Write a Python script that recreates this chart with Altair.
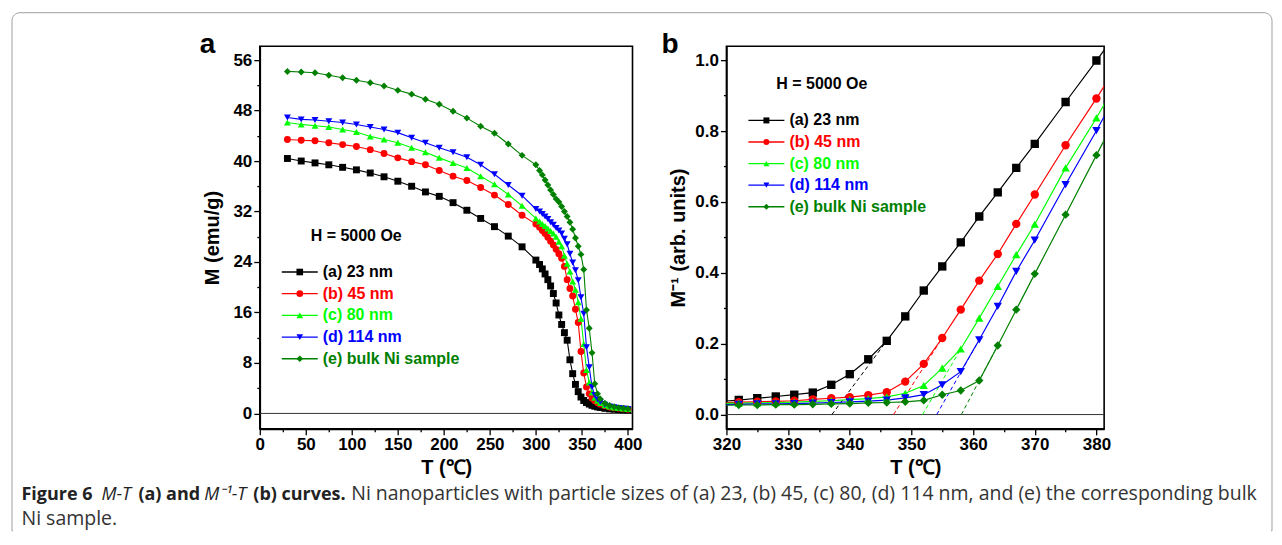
import altair as alt
import pandas as pd

# ------------------------------------------------------------------ data
series = ["(a) 23 nm", "(b) 45 nm", "(c) 80 nm", "(d) 114 nm", "(e) bulk Ni sample"]
colors = ["#000000", "#FF0000", "#00FF00", "#0000FF", "#008000"]
shapes = ["square", "circle", "triangle-up", "triangle-down", "diamond"]

# Panel a: M (emu/g) vs T (deg C)
T_a = [30, 45, 60, 75, 90, 105, 120, 135, 150, 165, 180, 195, 210, 225, 240, 255, 270, 285, 300,
       304, 307, 310, 313, 316, 319, 322, 325, 328, 331, 334, 337, 340, 343, 346, 349, 352, 355,
       358, 361, 364, 367, 370, 375, 380, 385, 390, 395, 400]
M_23 = [40.4, 40.0, 39.7, 39.4, 39.0, 38.6, 38.1, 37.5, 36.8, 36.0, 35.1, 34.4, 33.4, 32.2, 30.9,
        29.6, 28.1, 26.4, 24.3,
        23.6, 22.9, 22.1, 21.2, 20.2, 19.0, 17.5, 15.6, 14.1, 12.8, 11.6, 8.5, 6.3, 4.6, 3.45, 2.6,
        2.05, 1.72, 1.48, 1.28, 1.14, 1.03, 0.94, 0.81, 0.72, 0.66, 0.61, 0.57, 0.53]
M_45 = [43.4, 43.3, 43.2, 42.9, 42.6, 42.3, 41.8, 41.2, 40.5, 39.9, 39.4, 38.5, 37.6, 36.9, 35.8,
        34.6, 33.1, 31.4, 30.0,
        29.5, 29.0, 28.5, 27.9, 27.3, 26.7, 26.0, 25.3, 24.6, 23.3, 21.2, 19.8, 18.6, 16.5, 14.4,
        9.8, 6.4, 4.2, 3.1, 2.4, 2.0, 1.7, 1.47, 1.2, 1.02, 0.9, 0.8, 0.72, 0.66]
M_80 = [46.1, 45.8, 45.6, 45.4, 45.0, 44.6, 43.9, 43.4, 42.9, 42.1, 41.4, 40.5, 39.7, 38.9, 37.6,
        36.3, 34.7, 32.9, 30.9,
        30.4, 30.0, 29.7, 29.3, 28.9, 28.5, 28.0, 27.2, 26.5, 25.0, 23.7, 22.5, 20.9, 19.6, 17.6,
        15.0, 11.0, 6.9, 4.9, 3.3, 2.5, 2.0, 1.67, 1.29, 1.08, 0.95, 0.85, 0.77, 0.7]
M_114 = [46.9, 46.6, 46.5, 46.3, 46.1, 45.8, 45.4, 45.0, 44.5, 43.7, 42.9, 42.1, 41.4, 40.6, 39.4,
         37.9, 36.2, 34.5, 32.4,
         32.0, 31.6, 31.2, 30.8, 30.3, 29.9, 29.4, 29.0, 28.5, 27.7, 26.8, 25.3, 23.9, 22.7, 21.1,
         18.4, 15.8, 10.5, 7.3, 4.2, 2.9, 2.2, 1.8, 1.36, 1.1, 0.97, 0.87, 0.78, 0.72]
M_bulk = [54.2, 54.1, 54.0, 53.6, 53.2, 52.8, 52.4, 51.9, 51.2, 50.6, 49.8, 49.0, 47.9, 46.8, 45.5,
          44.4, 42.7, 40.9, 39.4,
          38.5, 37.8, 37.0, 36.2, 35.4, 34.7, 34.0, 33.5, 32.8, 32.0, 31.2, 30.3, 29.2, 27.8, 26.5,
          25.2, 22.8, 16.4, 13.5, 9.6, 4.7, 3.1, 2.3, 1.63, 1.25, 1.05, 0.92, 0.82, 0.75]

# Panel b: 1/M (arb. units) vs T (deg C)
T_b = [319, 322, 325, 328, 331, 334, 337, 340, 343, 346, 349, 352, 355, 358, 361, 364, 367, 370,
       375, 380, 385]
Minv_23 = [0.037, 0.041, 0.046, 0.051, 0.056, 0.062, 0.084, 0.114, 0.156, 0.208, 0.277, 0.350,
           0.418, 0.486, 0.559, 0.627, 0.696, 0.764, 0.882, 0.999, 1.117]
Minv_45 = [0.033, 0.035, 0.036, 0.037, 0.039, 0.043, 0.046, 0.049, 0.055, 0.063, 0.093, 0.143,
           0.216, 0.296, 0.378, 0.453, 0.538, 0.621, 0.760, 0.892, 1.03]
Minv_80 = [0.031, 0.032, 0.033, 0.034, 0.035, 0.037, 0.039, 0.042, 0.045, 0.050, 0.060, 0.082,
           0.131, 0.185, 0.272, 0.362, 0.451, 0.537, 0.696, 0.837, 0.99]
Minv_114 = [0.028, 0.029, 0.030, 0.030, 0.031, 0.032, 0.034, 0.036, 0.038, 0.041, 0.047, 0.056,
            0.084, 0.121, 0.211, 0.305, 0.404, 0.492, 0.649, 0.801, 0.96]
Minv_bulk = [0.026, 0.027, 0.027, 0.028, 0.028, 0.029, 0.030, 0.031, 0.033, 0.034, 0.036, 0.040,
             0.056, 0.068, 0.096, 0.195, 0.296, 0.397, 0.564, 0.732, 0.90]

# Linear extrapolations (Curie temperature): x-intercept and point where the fit meets the curve
fit_T0 = [337.1, 347.1, 351.8, 354.1, 358.1]
fit_Tend = [346, 355, 358, 361, 364]

# Axes ticks
xa_ticks = list(range(0, 401, 25))
ya_ticks = list(range(0, 57, 4))
xb_ticks = list(range(320, 381, 5))
yb_ticks = [round(i * 0.1, 1) for i in range(0, 11)]

caption_bold1 = "Figure 6"
caption_it1 = "M-T"
caption_bold2 = "(a) and"
caption_it2 = "M\u207b\u00b9-T"
caption_bold3 = "(b) curves."
caption_rest = ("Ni nanoparticles with particle sizes of (a) 23, (b) 45, (c) 80, (d) 114 nm, "
                "and (e) the corresponding bulk")
caption_line2 = "Ni sample."

# ------------------------------------------------------------------ helpers
FONT = "Liberation Sans, Arial, sans-serif"
CAPFONT = "Open Sans, sans-serif"


def long_df(T, cols):
    rows = []
    for s, vals in zip(series, cols):
        for t, v in zip(T, vals):
            rows.append({"T": t, "v": v, "s": s})
    return pd.DataFrame(rows)


def axis(values, test_minor, title, tx, ty, angle=0, fmt=None):
    kw = dict(
        values=values,
        labelExpr="(" + test_minor + ") ? '' : datum.label",
        tickSize={"condition": {"test": test_minor, "value": 3}, "value": 6},
        grid=False, domainColor="#000", domainWidth=1.6, tickColor="#000", tickWidth=1.3,
        labelFont=FONT, labelFontSize=17, labelFontWeight="bold", labelColor="#000",
        labelPadding=2, labelOverlap=False, labelFlush=False,
        title=title, titleFont=FONT, titleFontSize=20, titleFontWeight="bold", titleColor="#000",
        titleX=tx, titleY=ty, titleAngle=angle, titleAlign="center", titleBaseline="middle",
    )
    if fmt:
        kw["format"] = fmt
    return alt.Axis(**kw)


def txt(s, x, y, size, weight="bold", style="normal", color="#000", font=FONT,
        align="left", baseline="alphabetic"):
    return alt.Chart(pd.DataFrame({"t": [s]})).mark_text(
        align=align, baseline=baseline, fontSize=size, fontWeight=weight, fontStyle=style,
        font=font, color=color
    ).encode(x=alt.value(x), y=alt.value(y), text="t:N")


def legend(x1, x2, y0, dy, msize, fsize):
    layers = []
    for i, (s, c, sh) in enumerate(zip(series, colors, shapes)):
        yy = y0 + i * dy
        d = pd.DataFrame({"t": [s]})
        layers.append(alt.Chart(d).mark_rule(color=c, strokeWidth=1.3).encode(
            x=alt.value(x1), x2=alt.value(x2), y=alt.value(yy)))
        layers.append(alt.Chart(d).mark_point(shape=sh, filled=True, size=msize, color=c,
                                              opacity=1).encode(
            x=alt.value((x1 + x2) / 2), y=alt.value(yy)))
        layers.append(txt(s, x2 + 5, yy, fsize, color=c, baseline="middle"))
    return layers


color_enc = alt.Color("s:N", scale=alt.Scale(domain=series, range=colors), legend=None)
shape_enc = alt.Shape("s:N", scale=alt.Scale(domain=series, range=shapes), legend=None)

# ------------------------------------------------------------------ panel a
WA, HA = 373, 383
df_a = long_df(T_a, [M_23, M_45, M_80, M_114, M_bulk])
xA = alt.X("T:Q", scale=alt.Scale(domain=[0, 405], nice=False, zero=False),
           axis=axis(xa_ticks, "datum.value % 50 !== 0", "T (\u2103)", WA / 2, 39))
yA = alt.Y("v:Q", scale=alt.Scale(domain=[-2.45, 58.2], nice=False, zero=False),
           axis=axis(ya_ticks, "datum.value % 8 !== 0", "M (emu/g)", -47, HA / 2, 270))

border = alt.Chart(pd.DataFrame({"k": [0]})).mark_rect(
    fillOpacity=0, stroke="#a0a0a0", strokeWidth=1, cornerRadiusTopLeft=8,
    cornerRadiusTopRight=8).encode(x=alt.value(-248), x2=alt.value(1013),
                                    y=alt.value(-33.5), y2=alt.value(485))
cover = alt.Chart(pd.DataFrame({"k": [0]})).mark_rule(color="#ffffff", strokeWidth=3).encode(
    x=alt.value(-247), x2=alt.value(1012), y=alt.value(485))

zero_a = alt.Chart(pd.DataFrame({"v": [0.0]})).mark_rule(color="#333", strokeWidth=1).encode(y=yA)
lines_a = alt.Chart(df_a).mark_line(strokeWidth=1.1).encode(x=xA, y=yA, color=color_enc,
                                                             detail="s:N")
pts_a = alt.Chart(df_a).mark_point(filled=True, size=48, opacity=1).encode(
    x=xA, y=yA, color=color_enc, shape=shape_enc)

CAP_Y1, CAP_Y2 = 454, 479
CAP_B = 18
caption = [
    txt(caption_bold1, -238.5, CAP_Y1, CAP_B, font=CAPFONT, color="#222"),
    txt(caption_it1, -158.5, CAP_Y1, CAP_B, weight="normal", style="italic", font=CAPFONT,
        color="#222"),
    txt(caption_bold2, -121.5, CAP_Y1, CAP_B, font=CAPFONT, color="#222"),
    txt(caption_it2, -55.5, CAP_Y1, CAP_B, weight="normal", style="italic", font=CAPFONT,
        color="#222"),
    txt(caption_bold3, -6.5, CAP_Y1, CAP_B, font=CAPFONT, color="#222"),
    txt(caption_rest, 91.5, CAP_Y1, 19.5, weight="normal", font=CAPFONT, color="#333"),
    txt(caption_line2, -238.5, CAP_Y2, 19.5, weight="normal", font=CAPFONT, color="#333"),
]

panel_a = alt.layer(
    border, cover, zero_a, lines_a, pts_a,
    txt("H = 5000 Oe", 96.5, 190, 16, align="center", baseline="middle"),
    *legend(22, 58, 226, 21.7, 44, 16),
    txt("a", -60, 7, 28),
    *caption,
).properties(width=WA, height=HA)

# ------------------------------------------------------------------ panel b
WB, HB = 378, 383
df_b = long_df(T_b, [Minv_23, Minv_45, Minv_80, Minv_114, Minv_bulk])
xB = alt.X("T:Q", scale=alt.Scale(domain=[320, 381.25], nice=False, zero=False),
           axis=axis(xb_ticks, "datum.value % 10 !== 0", "T (\u2103)", WB / 2, 39))
yB = alt.Y("v:Q", scale=alt.Scale(domain=[-0.0404, 1.0395], nice=False, zero=False),
           axis=axis(yb_ticks, "round(datum.value * 10) % 2 !== 0", "M\u207b\u00b9 (arb. units)",
                     -48, HB / 2, 270, fmt=".1f"))

fit_rows = []
for s, t0, te, vals in zip(series, fit_T0, fit_Tend,
                           [Minv_23, Minv_45, Minv_80, Minv_114, Minv_bulk]):
    fit_rows.append({"T": t0, "v": 0.0, "s": s})
    fit_rows.append({"T": te, "v": vals[T_b.index(te)], "s": s})
df_fit = pd.DataFrame(fit_rows)

zero_b = alt.Chart(pd.DataFrame({"v": [0.0]})).mark_rule(color="#333", strokeWidth=1).encode(y=yB)
fit_b = alt.Chart(df_fit).mark_line(strokeWidth=1, strokeDash=[4, 3], clip=True).encode(
    x=xB, y=yB, color=color_enc, detail="s:N")
lines_b = alt.Chart(df_b).mark_line(strokeWidth=1.2, clip=True).encode(
    x=xB, y=yB, color=color_enc, detail="s:N")
pts_b = alt.Chart(df_b).mark_point(filled=True, size=70, opacity=1, clip=True).encode(
    x=xB, y=yB, color=color_enc, shape=shape_enc)

panel_b = alt.layer(
    zero_b, fit_b, lines_b, pts_b,
    txt("H = 5000 Oe", 95.5, 38.3, 16, align="center", baseline="middle"),
    *legend(22, 58, 74.3, 21.6, 36, 16),
    txt("b", -65, 7, 28),
).properties(width=WB, height=HB)

chart = alt.hconcat(panel_a, panel_b, spacing=94, bounds="flush").properties(
    padding={"left": 2, "top": 3, "right": 0, "bottom": 0}
).configure_view(stroke="#000", strokeWidth=1.6)

chart.save("out.html", embed_options={"renderer": "svg", "actions": False})
